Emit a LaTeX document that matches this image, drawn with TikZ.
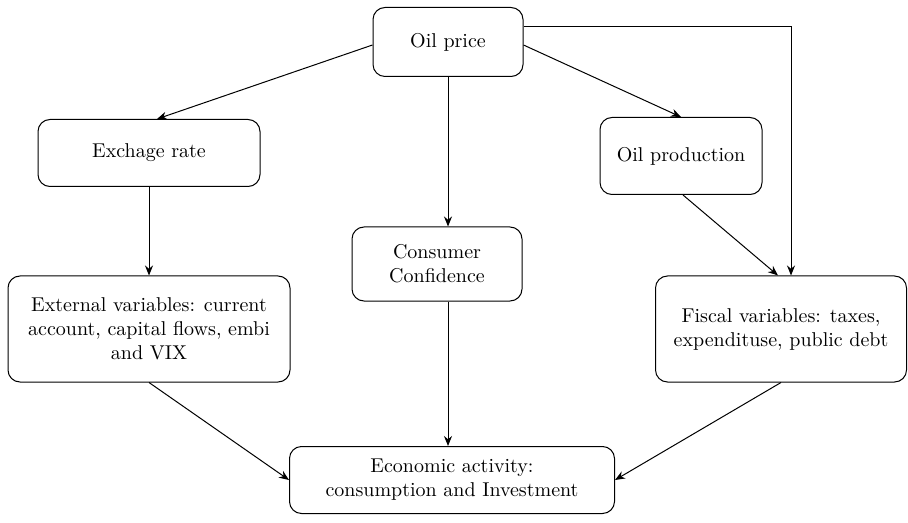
\documentclass[tikz,border=0pt]{standalone}
\usepackage{amsmath}
\usepackage{tikz}
\usetikzlibrary{arrows.meta, positioning}

\tikzset{
    box/.style={draw, rounded corners=6pt, align=center, inner sep=3pt, line width=0.5pt},
    arr/.style={-{Stealth[length=5pt,width=4pt]}, line width=0.5pt}
}

\begin{document}
\begin{tikzpicture}[x=0.5pt, y=-0.5pt]
            \useasboundingbox (0,0) rectangle (908,523);

            % boxes
            \node[box, minimum width=75pt, minimum height=34.5pt] (oil) at (448,42) {Oil price};
            \node[box, minimum width=111pt, minimum height=33.5pt] (exch) at (149,153) {Exchage rate};
            \node[box, minimum width=81pt, minimum height=38.5pt] (prod) at (681,156) {Oil production};
            \node[box, minimum width=85pt, minimum height=37pt] (cons) at (437,264) {Consumer\\Confidence};
            \node[box, minimum width=141pt, minimum height=53pt] (ext) at (149,329) {External variables: current\\account, capital flows, embi\\and VIX};
            \node[box, minimum width=125.5pt, minimum height=53pt] (fisc) at (781,329) {Fiscal variables: taxes,\\expendituse, public debt};
            \node[box, minimum width=162.5pt, minimum height=33.5pt] (econ) at (452,480) {Economic activity:\\consumption and Investment};

            % links
            \draw[arr] ([yshift=-1.5pt]oil.west) -- ([xshift=4pt]exch.north);
            \draw[arr] (oil.south) -- (oil.south |- cons.north);
            \draw[arr] ([yshift=-1.5pt]oil.east) -- (prod.north);
            \draw[arr] ([yshift=7.5pt]oil.east) -| ([xshift=5pt]fisc.north);
            \draw[arr] (exch.south) -- (ext.north);
            \draw[arr] ([xshift=1pt]prod.south) -- ([xshift=-1.5pt]fisc.north);
            \draw[arr] (oil.south |- cons.south) -- (oil.south |- econ.north);
            \draw[arr] (ext.south) -- (econ.west);
            \draw[arr] (fisc.south) -- (econ.east);
        \end{tikzpicture}
\end{document}
